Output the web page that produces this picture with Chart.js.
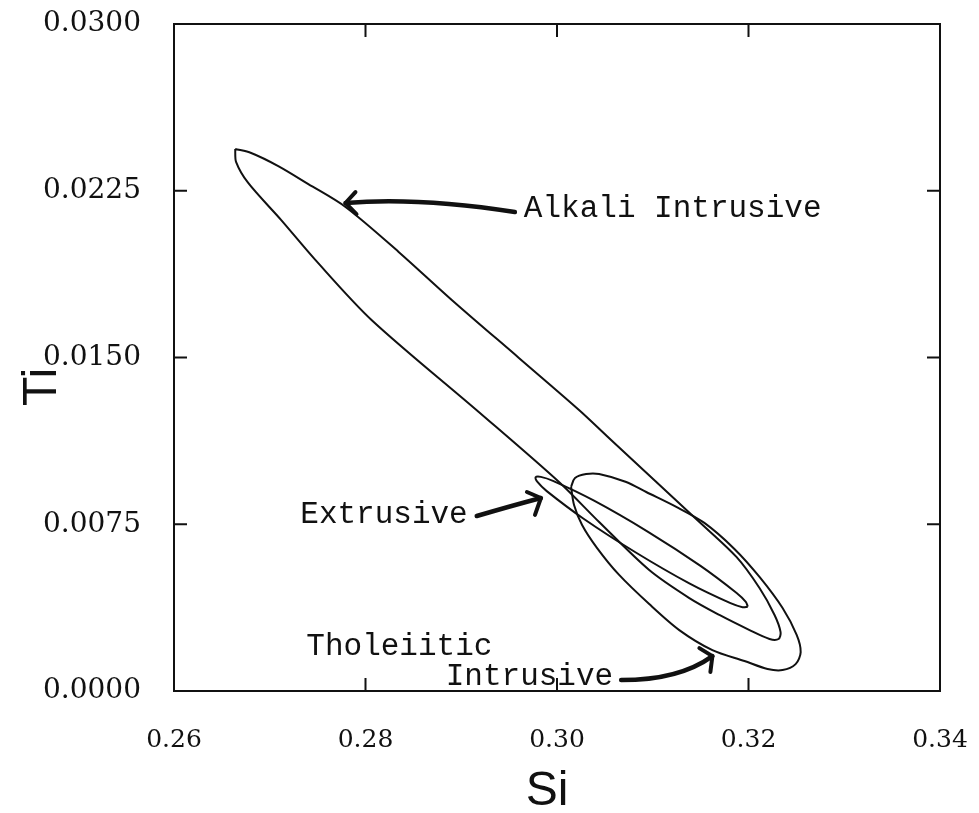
<!DOCTYPE html>
<html>
<head>
<meta charset="utf-8">
<script src="https://cdn.jsdelivr.net/npm/chart.js@4.4.1/dist/chart.umd.min.js"></script>
<style>
    body { margin: 0; background: #fff; }
</style>
</head>
<body>
<canvas id="siTiChart" width="979" height="813"></canvas>
<script>
// Outlines of the Si / Ti fields (cations) for each rock group
const alkaliSi = [0.26639, 0.26806, 0.27089, 0.27403, 0.27791, 0.28346, 0.28901, 0.29602, 0.30230,
    0.30565, 0.31487, 0.31874, 0.32115, 0.32272, 0.32335, 0.32314, 0.32220, 0.32011, 0.31696,
    0.31382, 0.30963, 0.30440, 0.30021, 0.29183, 0.28063, 0.27476, 0.27120, 0.26775, 0.26649];
const alkaliTi = [0.02438, 0.02420, 0.02361, 0.02280, 0.02177, 0.01975, 0.01759, 0.01498, 0.01264,
    0.01129, 0.00760, 0.00603, 0.00463, 0.00342, 0.00265, 0.00234, 0.00234, 0.00274, 0.00342,
    0.00418, 0.00544, 0.00760, 0.00940, 0.01255, 0.01669, 0.01939, 0.02118, 0.02285, 0.02379];

const extrusiveSi = [0.31993, 0.31938, 0.31812, 0.31382, 0.30819, 0.30274, 0.29893, 0.29798, 0.29777,
    0.29831, 0.29958, 0.30387, 0.30951, 0.31495, 0.31876, 0.31972];
const extrusiveTi = [0.00379, 0.00377, 0.00395, 0.00484, 0.00624, 0.00776, 0.00899, 0.00939, 0.00961,
    0.00963, 0.00945, 0.00856, 0.00716, 0.00564, 0.00441, 0.00401];

const tholeiiticSi = [0.30147, 0.30188, 0.30304, 0.30440, 0.30723, 0.30932, 0.31246, 0.31539, 0.31853,
    0.32115, 0.32356, 0.32503, 0.32545, 0.32492, 0.32356, 0.32199, 0.31958, 0.31623, 0.31277,
    0.30963, 0.30649, 0.30419, 0.30262, 0.30178];
const tholeiiticTi = [0.00918, 0.00958, 0.00976, 0.00976, 0.00940, 0.00895, 0.00828, 0.00756, 0.00639,
    0.00513, 0.00373, 0.00252, 0.00175, 0.00121, 0.00094, 0.00099, 0.00135, 0.00184, 0.00274,
    0.00391, 0.00522, 0.00643, 0.00747, 0.00837];

const xTicks = [0.26, 0.28, 0.30, 0.32, 0.34];
const yTicks = [0, 0.0075, 0.015, 0.0225, 0.03];
const xTickLabels = ["0.26", "0.28", "0.30", "0.32", "0.34"];
const yTickLabels = ["0.0000", "0.0075", "0.0150", "0.0225", "0.0300"];

// group labels, placed in data units (left edge, vertical middle)
const labelText = ["Alkali Intrusive", "Extrusive", "Tholeiitic", "Intrusive"];
const labelSi = [0.29654, 0.27319, 0.27382, 0.28838];
const labelTi = [0.02168, 0.00792, 0.00198, 0.00063];

// hand-drawn pointer arrows: tail -> control -> tip, plus two barbs
const arrows = [
    { tail: [0.29560, 0.02154], ctrl: [0.28555, 0.02222], tip: [0.27791, 0.02195],
      barbs: [[0.27895, 0.02244], [0.27906, 0.02145]] },
    { tail: [0.29162, 0.00787], ctrl: [0.29518, 0.00832], tip: [0.29832, 0.00868],
      barbs: [[0.29686, 0.00895], [0.29770, 0.00792]] },
    { tail: [0.30670, 0.00049], ctrl: [0.31277, 0.00049], tip: [0.31623, 0.00157],
      barbs: [[0.31487, 0.00193], [0.31602, 0.00085]] },
];

const INK = "#111";

function toPoints(si, ti) {
    const pts = si.map((x, i) => ({ x: x, y: ti[i] }));
    pts.push(pts[0]); // close the outline
    return pts;
}

function outline(label, si, ti) {
    return {
        label: label,
        data: toPoints(si, ti),
        showLine: true,
        borderColor: INK,
        borderWidth: 2,
        pointRadius: 0,
        tension: 0.3,
        fill: false,
    };
}

// frame, inward ticks, axis titles and the labelled arrows
const decorPlugin = {
    id: "decor",
    afterDraw(chart) {
        const ctx = chart.ctx;
        const a = chart.chartArea;
        const xs = chart.scales.x;
        const ys = chart.scales.y;
        const px = (p) => [xs.getPixelForValue(p[0]), ys.getPixelForValue(p[1])];

        ctx.save();
        ctx.strokeStyle = INK;
        ctx.lineWidth = 2;
        ctx.strokeRect(a.left, a.top, a.right - a.left, a.bottom - a.top);

        const len = 13;
        ctx.beginPath();
        xTicks.slice(1, -1).forEach((v) => {
            const x = xs.getPixelForValue(v);
            ctx.moveTo(x, a.bottom);
            ctx.lineTo(x, a.bottom - len);
            ctx.moveTo(x, a.top);
            ctx.lineTo(x, a.top + len);
        });
        yTicks.slice(1, -1).forEach((v) => {
            const y = ys.getPixelForValue(v);
            ctx.moveTo(a.left, y);
            ctx.lineTo(a.left + len, y);
            ctx.moveTo(a.right, y);
            ctx.lineTo(a.right - len, y);
        });
        ctx.stroke();

        // axis titles
        ctx.fillStyle = INK;
        ctx.font = "48px 'Liberation Sans'";
        ctx.textAlign = "center";
        ctx.textBaseline = "alphabetic";
        ctx.fillText("Si", 547, 805);
        ctx.save();
        ctx.translate(56, 387);
        ctx.rotate(-Math.PI / 2);
        ctx.fillText("Ti", 0, 0);
        ctx.restore();

        // group names
        ctx.font = "31px 'Liberation Mono'";
        ctx.textAlign = "left";
        ctx.textBaseline = "middle";
        labelText.forEach((t, i) => {
            ctx.fillText(t, xs.getPixelForValue(labelSi[i]), ys.getPixelForValue(labelTi[i]));
        });

        // arrows
        ctx.lineCap = "round";
        ctx.lineJoin = "round";
        arrows.forEach((ar) => {
            const t = px(ar.tail), c = px(ar.ctrl), p = px(ar.tip);
            ctx.lineWidth = 4.5;
            ctx.beginPath();
            ctx.moveTo(t[0], t[1]);
            ctx.quadraticCurveTo(c[0], c[1], p[0], p[1]);
            ctx.stroke();
            ctx.lineWidth = 4;
            ctx.beginPath();
            const b0 = px(ar.barbs[0]), b1 = px(ar.barbs[1]);
            ctx.moveTo(b0[0], b0[1]);
            ctx.lineTo(p[0], p[1]);
            ctx.lineTo(b1[0], b1[1]);
            ctx.stroke();
        });
        ctx.restore();
    },
};

const ctx = document.getElementById("siTiChart").getContext("2d");
const siTiChart = new Chart(ctx, {
    type: "scatter",
    data: {
        datasets: [
            outline("Alkali Intrusive", alkaliSi, alkaliTi),
            outline("Extrusive", extrusiveSi, extrusiveTi),
            outline("Tholeiitic Intrusive", tholeiiticSi, tholeiiticTi),
        ],
    },
    options: {
        responsive: false,
        animation: false,
        layout: { padding: { top: 24, right: 39, left: 0, bottom: 0 } },
        scales: {
            x: {
                type: "linear",
                min: 0.26,
                max: 0.34,
                afterBuildTicks: (scale) => {
                    scale.ticks = xTicks.map((v) => ({ value: v }));
                },
                afterFit: (scale) => {
                    scale.height = 122;
                    scale.paddingLeft = 0;
                    scale.paddingRight = 0;
                },
                grid: { display: false },
                border: { display: false },
                ticks: {
                    autoSkip: false,
                    maxRotation: 0,
                    padding: 26,
                    color: INK,
                    font: { family: "'DejaVu Serif'", size: 25 },
                    callback: (value, index) => xTickLabels[index],
                },
            },
            y: {
                type: "linear",
                min: 0,
                max: 0.03,
                afterBuildTicks: (scale) => {
                    scale.ticks = yTicks.map((v) => ({ value: v }));
                },
                afterFit: (scale) => {
                    scale.width = 174;
                    scale.paddingTop = 0;
                    scale.paddingBottom = 0;
                },
                grid: { display: false },
                border: { display: false },
                ticks: {
                    autoSkip: false,
                    padding: 25,
                    color: INK,
                    font: { family: "'DejaVu Serif'", size: 28 },
                    callback: (value, index) => yTickLabels[index],
                },
            },
        },
        plugins: {
            legend: { display: false },
            tooltip: { enabled: false },
        },
    },
    plugins: [decorPlugin],
});
</script>
</body>
</html>
